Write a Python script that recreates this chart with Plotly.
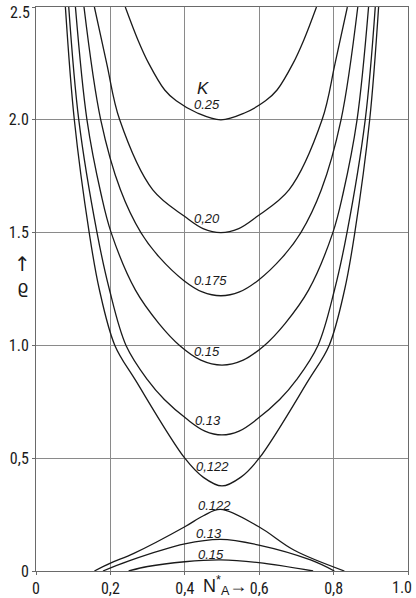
import plotly.graph_objects as go

# ---- data ----
# upper (U-shaped) branches: x values (N_A*) and rho values
k025_x = [0.24, 0.274, 0.303, 0.346, 0.377, 0.435, 0.497, 0.559, 0.617, 0.648, 0.691, 0.72, 0.754]
k025_y = [2.5, 2.354, 2.25, 2.132, 2.084, 2.029, 2.0, 2.029, 2.084, 2.132, 2.25, 2.354, 2.5]

k020_x = [0.157, 0.19, 0.225, 0.314, 0.401, 0.449, 0.497, 0.545, 0.593, 0.68, 0.769, 0.804, 0.837]
k020_y = [2.5, 2.25, 2.0, 1.689, 1.57, 1.518, 1.5, 1.518, 1.57, 1.689, 2.0, 2.25, 2.5]

k0175_x = [0.129, 0.174, 0.227, 0.282, 0.332, 0.397, 0.447, 0.497, 0.547, 0.597, 0.662, 0.712, 0.767, 0.82, 0.865]
k0175_y = [2.5, 2.0, 1.69, 1.5, 1.39, 1.288, 1.237, 1.22, 1.237, 1.288, 1.39, 1.5, 1.69, 2.0, 2.5]

k015_x = [0.106, 0.137, 0.175, 0.202, 0.267, 0.33, 0.386, 0.443, 0.5, 0.557, 0.614, 0.67, 0.733, 0.798, 0.825, 0.863, 0.894]
k015_y = [2.5, 2.0, 1.67, 1.5, 1.246, 1.098, 1.0, 0.935, 0.913, 0.935, 1.0, 1.098, 1.246, 1.5, 1.67, 2.0, 2.5]

k013_x = [0.088, 0.115, 0.164, 0.197, 0.242, 0.3, 0.345, 0.408, 0.454, 0.5, 0.546, 0.592, 0.655, 0.7, 0.758, 0.803, 0.836, 0.885, 0.912]
k013_y = [2.5, 2.0, 1.5, 1.25, 1.0, 0.847, 0.76, 0.67, 0.62, 0.603, 0.62, 0.67, 0.76, 0.847, 1.0, 1.25, 1.5, 2.0, 2.5]

k0122_x = [0.079, 0.103, 0.143, 0.17, 0.212, 0.267, 0.4, 0.45, 0.5, 0.55, 0.6, 0.733, 0.788, 0.83, 0.857, 0.897, 0.921]
k0122_y = [2.5, 2.0, 1.5, 1.25, 1.0, 0.847, 0.5, 0.415, 0.377, 0.415, 0.5, 0.847, 1.0, 1.25, 1.5, 2.0, 2.5]

# lower (hump) branches
low0122_x = [0.157, 0.2, 0.263, 0.4, 0.45, 0.496, 0.599, 0.693, 0.829]
low0122_y = [0.0, 0.035, 0.078, 0.196, 0.245, 0.273, 0.196, 0.093, 0.0]

low013_x = [0.18, 0.25, 0.4, 0.496, 0.599, 0.738, 0.802]
low013_y = [0.0, 0.045, 0.12, 0.14, 0.115, 0.049, 0.0]

low015_x = [0.249, 0.3, 0.4, 0.496, 0.599, 0.745]
low015_y = [0.0, 0.02, 0.041, 0.049, 0.037, 0.0]

# curve labels (K values) and where they sit
label_text = ["0.25", "0,20", "0.175", "0.15", "0.13", "0,122", "0.122", "0.13", "0.15"]
label_x = [0.42, 0.42, 0.418, 0.42, 0.423, 0.426, 0.429, 0.426, 0.431]
label_y = [2.066, 1.563, 1.287, 0.975, 0.666, 0.465, 0.292, 0.167, 0.075]

x_tickvals = [0, 0.2, 0.4, 0.6, 0.8, 1.0]
x_ticktext = ["0", "0,2", "0,4", "0,6", "0,8", ""]
y_tickvals = [0, 0.5, 1.0, 1.5, 2.0, 2.5]
y_ticktext = ["0", "0,5", "1.0", "1.5", "2.0", ""]
edge_x_label = "1.0"
edge_y_label = "2.5"

FONT = "Liberation Sans Narrow, Roboto Condensed, Liberation Sans, Arial, sans-serif"

fig = go.Figure()
for xs, ys in [(k025_x, k025_y), (k020_x, k020_y), (k0175_x, k0175_y), (k015_x, k015_y),
               (k013_x, k013_y), (k0122_x, k0122_y), (low0122_x, low0122_y),
               (low013_x, low013_y), (low015_x, low015_y)]:
    fig.add_trace(go.Scatter(x=xs, y=ys, mode="lines",
                             line=dict(color="#1a1a1a", width=1.3, shape="spline", smoothing=1.0),
                             showlegend=False, hoverinfo="skip", cliponaxis=True))

for t, lx, ly in zip(label_text, label_x, label_y):
    fig.add_annotation(x=lx, y=ly, text="<i>" + t + "</i>", showarrow=False,
                       xanchor="left", yanchor="middle",
                       font=dict(family="Liberation Sans, Arial, sans-serif", size=13, color="#1a1a1a"))

fig.add_annotation(x=0.45, y=2.14, text="<i>K</i>", showarrow=False, xanchor="center", yanchor="middle",
                   font=dict(family="Liberation Sans, Arial, sans-serif", size=17, color="#1a1a1a"))

# edge tick labels kept inside the page
fig.add_annotation(x=1.016, y=-0.008, xref="paper", yref="paper", text=edge_x_label,
                   showarrow=False, xanchor="right", yanchor="top",
                   font=dict(family=FONT, size=16, color="#1a1a1a"))
fig.add_annotation(x=-0.01, y=1.011, xref="paper", yref="paper", text=edge_y_label,
                   showarrow=False, xanchor="right", yanchor="top",
                   font=dict(family=FONT, size=16, color="#1a1a1a"))

# axis titles
fig.add_annotation(x=0.572, y=-0.026, xref="x", yref="paper", text="N<sup>*</sup><sub>A</sub>→",
                   showarrow=False, xanchor="right", yanchor="middle",
                   font=dict(family="Liberation Sans, Arial, sans-serif", size=18, color="#1a1a1a"))
fig.add_annotation(x=-0.036, y=0.545, xref="paper", yref="paper", text="↑",
                   showarrow=False, xanchor="center", yanchor="middle",
                   font=dict(family="DejaVu Sans, sans-serif", size=20, color="#1a1a1a"))
fig.add_annotation(x=-0.036, y=0.505, xref="paper", yref="paper", text="ϱ",
                   showarrow=False, xanchor="center", yanchor="middle",
                   font=dict(family="DejaVu Sans, sans-serif", size=18, color="#1a1a1a"))

axis_common = dict(showgrid=True, gridcolor="#8a8a8a", gridwidth=0.8, zeroline=False,
                   showline=True, linecolor="#6a6a6a", linewidth=1, mirror=True,
                   ticks="outside", ticklen=3, tickcolor="#6a6a6a",
                   ticklabeloverflow="allow", automargin=False,
                   tickfont=dict(family=FONT, size=16, color="#1a1a1a"))

fig.update_xaxes(range=[0, 1.0], tickvals=x_tickvals, ticktext=x_ticktext, **axis_common)
fig.update_yaxes(range=[0, 2.5], tickvals=y_tickvals, ticktext=y_ticktext, **axis_common)

fig.update_layout(width=416, height=598, margin=dict(l=36, r=8, t=7, b=27, autoexpand=False),
                  paper_bgcolor="white", plot_bgcolor="white", showlegend=False)

fig.write_html("out.html", config={"displayModeBar": False},
               post_script="document.body.style.margin='0';document.body.style.padding='0';")
